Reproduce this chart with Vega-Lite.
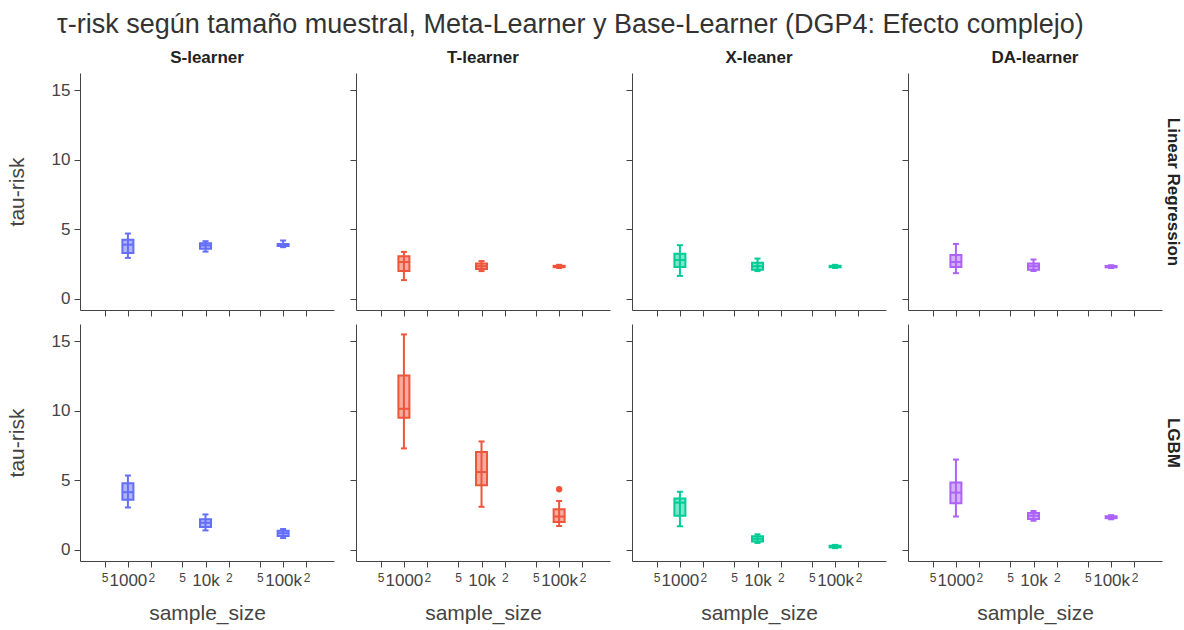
{
  "$schema": "https://vega.github.io/schema/vega-lite/v6.json",
  "padding": {"left": 6, "top": 11, "right": 2, "bottom": 3},
  "background": "white",
  "title": {"text": "τ-risk según tamaño muestral, Meta-Learner y Base-Learner (DGP4: Efecto complejo)", "fontSize": 27, "fontWeight": "normal", "anchor": "start", "color": "#333333", "offset": 10, "dx": 51, "frame": "bounds"},
  "data": {"values": [
    {"meta": "S-learner", "base": "Linear Regression", "n": 1000, "lo": 2.95, "q1": 3.3, "med": 3.9, "q3": 4.25, "hi": 4.7, "out": null},
    {"meta": "S-learner", "base": "Linear Regression", "n": 10000, "lo": 3.4, "q1": 3.6, "med": 3.85, "q3": 4.0, "hi": 4.15, "out": null},
    {"meta": "S-learner", "base": "Linear Regression", "n": 100000, "lo": 3.72, "q1": 3.8, "med": 3.88, "q3": 3.95, "hi": 4.2, "out": null},
    {"meta": "T-learner", "base": "Linear Regression", "n": 1000, "lo": 1.35, "q1": 2.0, "med": 2.65, "q3": 3.07, "hi": 3.38, "out": null},
    {"meta": "T-learner", "base": "Linear Regression", "n": 10000, "lo": 2.0, "q1": 2.15, "med": 2.35, "q3": 2.55, "hi": 2.72, "out": null},
    {"meta": "T-learner", "base": "Linear Regression", "n": 100000, "lo": 2.22, "q1": 2.28, "med": 2.33, "q3": 2.38, "hi": 2.45, "out": null},
    {"meta": "X-leaner", "base": "Linear Regression", "n": 1000, "lo": 1.65, "q1": 2.3, "med": 2.8, "q3": 3.25, "hi": 3.86, "out": null},
    {"meta": "X-leaner", "base": "Linear Regression", "n": 10000, "lo": 2.0, "q1": 2.1, "med": 2.35, "q3": 2.6, "hi": 2.9, "out": null},
    {"meta": "X-leaner", "base": "Linear Regression", "n": 100000, "lo": 2.22, "q1": 2.28, "med": 2.33, "q3": 2.38, "hi": 2.45, "out": null},
    {"meta": "DA-learner", "base": "Linear Regression", "n": 1000, "lo": 1.85, "q1": 2.3, "med": 2.65, "q3": 3.15, "hi": 3.95, "out": null},
    {"meta": "DA-learner", "base": "Linear Regression", "n": 10000, "lo": 2.0, "q1": 2.1, "med": 2.35, "q3": 2.55, "hi": 2.83, "out": null},
    {"meta": "DA-learner", "base": "Linear Regression", "n": 100000, "lo": 2.22, "q1": 2.27, "med": 2.32, "q3": 2.37, "hi": 2.42, "out": null},
    {"meta": "S-learner", "base": "LGBM", "n": 1000, "lo": 3.05, "q1": 3.6, "med": 4.15, "q3": 4.8, "hi": 5.35, "out": null},
    {"meta": "S-learner", "base": "LGBM", "n": 10000, "lo": 1.4, "q1": 1.65, "med": 1.95, "q3": 2.2, "hi": 2.55, "out": null},
    {"meta": "S-learner", "base": "LGBM", "n": 100000, "lo": 0.85, "q1": 1.0, "med": 1.2, "q3": 1.38, "hi": 1.5, "out": null},
    {"meta": "T-learner", "base": "LGBM", "n": 1000, "lo": 7.3, "q1": 9.5, "med": 10.15, "q3": 12.55, "hi": 15.5, "out": null},
    {"meta": "T-learner", "base": "LGBM", "n": 10000, "lo": 3.1, "q1": 4.65, "med": 5.6, "q3": 7.05, "hi": 7.8, "out": null},
    {"meta": "T-learner", "base": "LGBM", "n": 100000, "lo": 1.72, "q1": 2.0, "med": 2.4, "q3": 2.92, "hi": 3.52, "out": 4.36},
    {"meta": "X-leaner", "base": "LGBM", "n": 1000, "lo": 1.7, "q1": 2.45, "med": 3.4, "q3": 3.7, "hi": 4.18, "out": null},
    {"meta": "X-leaner", "base": "LGBM", "n": 10000, "lo": 0.5, "q1": 0.6, "med": 0.8, "q3": 0.98, "hi": 1.12, "out": null},
    {"meta": "X-leaner", "base": "LGBM", "n": 100000, "lo": 0.12, "q1": 0.18, "med": 0.25, "q3": 0.3, "hi": 0.36, "out": null},
    {"meta": "DA-learner", "base": "LGBM", "n": 1000, "lo": 2.4, "q1": 3.35, "med": 4.12, "q3": 4.84, "hi": 6.5, "out": null},
    {"meta": "DA-learner", "base": "LGBM", "n": 10000, "lo": 2.1, "q1": 2.22, "med": 2.45, "q3": 2.65, "hi": 2.8, "out": null},
    {"meta": "DA-learner", "base": "LGBM", "n": 100000, "lo": 2.2, "q1": 2.28, "med": 2.35, "q3": 2.42, "hi": 2.5, "out": null}
  ]},
  "columns": 4,
  "spacing": {"row": 14, "column": 22},
  "bounds": "flush",
  "concat": [
    {
      "title": {"text": "S-learner"},
      "width": 254, "height": 237,
      "transform": [{"filter": "datum.meta === 'S-learner' && datum.base === 'Linear Regression'"}],
      "encoding": {
        "x": {"field": "n", "type": "quantitative", "scale": {"type": "log", "domain": [280, 390000], "nice": false}, "axis": {"values": [500, 1000, 2000, 5000, 10000, 20000, 50000, 100000, 200000], "labels": false, "title": null}},
        "color": {"field": "meta", "type": "nominal", "scale": {"domain": ["S-learner", "T-learner", "X-leaner", "DA-learner"], "range": ["#636EFA", "#EF553B", "#00CC96", "#AB63FA"]}, "legend": null}
      },
      "layer": [
        {"mark": {"type": "rule", "strokeWidth": 2}, "encoding": {"y": {"field": "lo", "type": "quantitative", "scale": {"domain": [-0.8, 16.25], "nice": false, "zero": false}, "axis": {"values": [0, 5, 10, 15], "title": "tau-risk"}}, "y2": {"field": "hi"}}},
        {"mark": {"type": "tick", "orient": "horizontal", "size": 6, "thickness": 2, "opacity": 1}, "encoding": {"y": {"field": "lo", "type": "quantitative", "scale": {"domain": [-0.8, 16.25], "nice": false, "zero": false}, "axis": {"values": [0, 5, 10, 15], "title": "tau-risk"}}}},
        {"mark": {"type": "tick", "orient": "horizontal", "size": 6, "thickness": 2, "opacity": 1}, "encoding": {"y": {"field": "hi", "type": "quantitative", "scale": {"domain": [-0.8, 16.25], "nice": false, "zero": false}, "axis": {"values": [0, 5, 10, 15], "title": "tau-risk"}}}},
        {"mark": {"type": "bar", "size": 11, "fillOpacity": 0.5, "strokeWidth": 2}, "encoding": {"y": {"field": "q1", "type": "quantitative", "scale": {"domain": [-0.8, 16.25], "nice": false, "zero": false}, "axis": {"values": [0, 5, 10, 15], "title": "tau-risk"}}, "y2": {"field": "q3"}, "stroke": {"field": "meta", "type": "nominal", "scale": {"domain": ["S-learner", "T-learner", "X-leaner", "DA-learner"], "range": ["#636EFA", "#EF553B", "#00CC96", "#AB63FA"]}, "legend": null}}},
        {"mark": {"type": "tick", "orient": "horizontal", "size": 11, "thickness": 2, "opacity": 1}, "encoding": {"y": {"field": "med", "type": "quantitative", "scale": {"domain": [-0.8, 16.25], "nice": false, "zero": false}, "axis": {"values": [0, 5, 10, 15], "title": "tau-risk"}}}}
      ]
    },
    {
      "title": {"text": "T-learner"},
      "width": 254, "height": 237,
      "transform": [{"filter": "datum.meta === 'T-learner' && datum.base === 'Linear Regression'"}],
      "encoding": {
        "x": {"field": "n", "type": "quantitative", "scale": {"type": "log", "domain": [280, 390000], "nice": false}, "axis": {"values": [500, 1000, 2000, 5000, 10000, 20000, 50000, 100000, 200000], "labels": false, "title": null}},
        "color": {"field": "meta", "type": "nominal", "scale": {"domain": ["S-learner", "T-learner", "X-leaner", "DA-learner"], "range": ["#636EFA", "#EF553B", "#00CC96", "#AB63FA"]}, "legend": null}
      },
      "layer": [
        {"mark": {"type": "rule", "strokeWidth": 2}, "encoding": {"y": {"field": "lo", "type": "quantitative", "scale": {"domain": [-0.8, 16.25], "nice": false, "zero": false}, "axis": {"values": [0, 5, 10, 15], "labels": false, "title": null}}, "y2": {"field": "hi"}}},
        {"mark": {"type": "tick", "orient": "horizontal", "size": 6, "thickness": 2, "opacity": 1}, "encoding": {"y": {"field": "lo", "type": "quantitative", "scale": {"domain": [-0.8, 16.25], "nice": false, "zero": false}, "axis": {"values": [0, 5, 10, 15], "labels": false, "title": null}}}},
        {"mark": {"type": "tick", "orient": "horizontal", "size": 6, "thickness": 2, "opacity": 1}, "encoding": {"y": {"field": "hi", "type": "quantitative", "scale": {"domain": [-0.8, 16.25], "nice": false, "zero": false}, "axis": {"values": [0, 5, 10, 15], "labels": false, "title": null}}}},
        {"mark": {"type": "bar", "size": 11, "fillOpacity": 0.5, "strokeWidth": 2}, "encoding": {"y": {"field": "q1", "type": "quantitative", "scale": {"domain": [-0.8, 16.25], "nice": false, "zero": false}, "axis": {"values": [0, 5, 10, 15], "labels": false, "title": null}}, "y2": {"field": "q3"}, "stroke": {"field": "meta", "type": "nominal", "scale": {"domain": ["S-learner", "T-learner", "X-leaner", "DA-learner"], "range": ["#636EFA", "#EF553B", "#00CC96", "#AB63FA"]}, "legend": null}}},
        {"mark": {"type": "tick", "orient": "horizontal", "size": 11, "thickness": 2, "opacity": 1}, "encoding": {"y": {"field": "med", "type": "quantitative", "scale": {"domain": [-0.8, 16.25], "nice": false, "zero": false}, "axis": {"values": [0, 5, 10, 15], "labels": false, "title": null}}}}
      ]
    },
    {
      "title": {"text": "X-leaner"},
      "width": 254, "height": 237,
      "transform": [{"filter": "datum.meta === 'X-leaner' && datum.base === 'Linear Regression'"}],
      "encoding": {
        "x": {"field": "n", "type": "quantitative", "scale": {"type": "log", "domain": [280, 390000], "nice": false}, "axis": {"values": [500, 1000, 2000, 5000, 10000, 20000, 50000, 100000, 200000], "labels": false, "title": null}},
        "color": {"field": "meta", "type": "nominal", "scale": {"domain": ["S-learner", "T-learner", "X-leaner", "DA-learner"], "range": ["#636EFA", "#EF553B", "#00CC96", "#AB63FA"]}, "legend": null}
      },
      "layer": [
        {"mark": {"type": "rule", "strokeWidth": 2}, "encoding": {"y": {"field": "lo", "type": "quantitative", "scale": {"domain": [-0.8, 16.25], "nice": false, "zero": false}, "axis": {"values": [0, 5, 10, 15], "labels": false, "title": null}}, "y2": {"field": "hi"}}},
        {"mark": {"type": "tick", "orient": "horizontal", "size": 6, "thickness": 2, "opacity": 1}, "encoding": {"y": {"field": "lo", "type": "quantitative", "scale": {"domain": [-0.8, 16.25], "nice": false, "zero": false}, "axis": {"values": [0, 5, 10, 15], "labels": false, "title": null}}}},
        {"mark": {"type": "tick", "orient": "horizontal", "size": 6, "thickness": 2, "opacity": 1}, "encoding": {"y": {"field": "hi", "type": "quantitative", "scale": {"domain": [-0.8, 16.25], "nice": false, "zero": false}, "axis": {"values": [0, 5, 10, 15], "labels": false, "title": null}}}},
        {"mark": {"type": "bar", "size": 11, "fillOpacity": 0.5, "strokeWidth": 2}, "encoding": {"y": {"field": "q1", "type": "quantitative", "scale": {"domain": [-0.8, 16.25], "nice": false, "zero": false}, "axis": {"values": [0, 5, 10, 15], "labels": false, "title": null}}, "y2": {"field": "q3"}, "stroke": {"field": "meta", "type": "nominal", "scale": {"domain": ["S-learner", "T-learner", "X-leaner", "DA-learner"], "range": ["#636EFA", "#EF553B", "#00CC96", "#AB63FA"]}, "legend": null}}},
        {"mark": {"type": "tick", "orient": "horizontal", "size": 11, "thickness": 2, "opacity": 1}, "encoding": {"y": {"field": "med", "type": "quantitative", "scale": {"domain": [-0.8, 16.25], "nice": false, "zero": false}, "axis": {"values": [0, 5, 10, 15], "labels": false, "title": null}}}}
      ]
    },
    {
      "title": {"text": "DA-learner"},
      "width": 254, "height": 237,
      "transform": [{"filter": "datum.meta === 'DA-learner' && datum.base === 'Linear Regression'"}],
      "encoding": {
        "x": {"field": "n", "type": "quantitative", "scale": {"type": "log", "domain": [280, 390000], "nice": false}, "axis": {"values": [500, 1000, 2000, 5000, 10000, 20000, 50000, 100000, 200000], "labels": false, "title": null}},
        "color": {"field": "meta", "type": "nominal", "scale": {"domain": ["S-learner", "T-learner", "X-leaner", "DA-learner"], "range": ["#636EFA", "#EF553B", "#00CC96", "#AB63FA"]}, "legend": null}
      },
      "layer": [
        {"layer": [
          {"mark": {"type": "rule", "strokeWidth": 2}, "encoding": {"y": {"field": "lo", "type": "quantitative", "scale": {"domain": [-0.8, 16.25], "nice": false, "zero": false}, "axis": {"values": [0, 5, 10, 15], "labels": false, "title": null}}, "y2": {"field": "hi"}}},
          {"mark": {"type": "tick", "orient": "horizontal", "size": 6, "thickness": 2, "opacity": 1}, "encoding": {"y": {"field": "lo", "type": "quantitative", "scale": {"domain": [-0.8, 16.25], "nice": false, "zero": false}, "axis": {"values": [0, 5, 10, 15], "labels": false, "title": null}}}},
          {"mark": {"type": "tick", "orient": "horizontal", "size": 6, "thickness": 2, "opacity": 1}, "encoding": {"y": {"field": "hi", "type": "quantitative", "scale": {"domain": [-0.8, 16.25], "nice": false, "zero": false}, "axis": {"values": [0, 5, 10, 15], "labels": false, "title": null}}}},
          {"mark": {"type": "bar", "size": 11, "fillOpacity": 0.5, "strokeWidth": 2}, "encoding": {"y": {"field": "q1", "type": "quantitative", "scale": {"domain": [-0.8, 16.25], "nice": false, "zero": false}, "axis": {"values": [0, 5, 10, 15], "labels": false, "title": null}}, "y2": {"field": "q3"}, "stroke": {"field": "meta", "type": "nominal", "scale": {"domain": ["S-learner", "T-learner", "X-leaner", "DA-learner"], "range": ["#636EFA", "#EF553B", "#00CC96", "#AB63FA"]}, "legend": null}}},
          {"mark": {"type": "tick", "orient": "horizontal", "size": 11, "thickness": 2, "opacity": 1}, "encoding": {"y": {"field": "med", "type": "quantitative", "scale": {"domain": [-0.8, 16.25], "nice": false, "zero": false}, "axis": {"values": [0, 5, 10, 15], "labels": false, "title": null}}}}
        ]},
        {"mark": {"type": "point", "opacity": 0}, "encoding": {"y": {"field": "med", "type": "quantitative", "scale": {"domain": [-0.8, 16.25], "nice": false, "zero": false}, "axis": {"orient": "right", "title": "Linear Regression", "labels": false, "ticks": false, "domain": false, "titleAngle": 90, "titleFontWeight": "bold", "titleFontSize": 17, "titleColor": "#222222", "titlePadding": 1}}}}
      ],
      "resolve": {"axis": {"y": "independent"}}
    },
    {
      "width": 254, "height": 237,
      "transform": [{"filter": "datum.meta === 'S-learner' && datum.base === 'LGBM'"}],
      "encoding": {
        "x": {"field": "n", "type": "quantitative", "scale": {"type": "log", "domain": [280, 390000], "nice": false}, "axis": {"values": [500, 1000, 2000, 5000, 10000, 20000, 50000, 100000, 200000], "title": "sample_size", "labelOverlap": false, "labelFlush": false, "labelBound": false, "labelExpr": "datum.value == 1000 ? '1000' : datum.value == 10000 ? '10k' : datum.value == 100000 ? '100k' : substring(toString(datum.value), 0, 1)", "labelFontSize": {"condition": {"test": "datum.value == 1000 || datum.value == 10000 || datum.value == 100000", "value": 17}, "value": 12}}},
        "color": {"field": "meta", "type": "nominal", "scale": {"domain": ["S-learner", "T-learner", "X-leaner", "DA-learner"], "range": ["#636EFA", "#EF553B", "#00CC96", "#AB63FA"]}, "legend": null}
      },
      "layer": [
        {"mark": {"type": "rule", "strokeWidth": 2}, "encoding": {"y": {"field": "lo", "type": "quantitative", "scale": {"domain": [-0.8, 16.25], "nice": false, "zero": false}, "axis": {"values": [0, 5, 10, 15], "title": "tau-risk"}}, "y2": {"field": "hi"}}},
        {"mark": {"type": "tick", "orient": "horizontal", "size": 6, "thickness": 2, "opacity": 1}, "encoding": {"y": {"field": "lo", "type": "quantitative", "scale": {"domain": [-0.8, 16.25], "nice": false, "zero": false}, "axis": {"values": [0, 5, 10, 15], "title": "tau-risk"}}}},
        {"mark": {"type": "tick", "orient": "horizontal", "size": 6, "thickness": 2, "opacity": 1}, "encoding": {"y": {"field": "hi", "type": "quantitative", "scale": {"domain": [-0.8, 16.25], "nice": false, "zero": false}, "axis": {"values": [0, 5, 10, 15], "title": "tau-risk"}}}},
        {"mark": {"type": "bar", "size": 11, "fillOpacity": 0.5, "strokeWidth": 2}, "encoding": {"y": {"field": "q1", "type": "quantitative", "scale": {"domain": [-0.8, 16.25], "nice": false, "zero": false}, "axis": {"values": [0, 5, 10, 15], "title": "tau-risk"}}, "y2": {"field": "q3"}, "stroke": {"field": "meta", "type": "nominal", "scale": {"domain": ["S-learner", "T-learner", "X-leaner", "DA-learner"], "range": ["#636EFA", "#EF553B", "#00CC96", "#AB63FA"]}, "legend": null}}},
        {"mark": {"type": "tick", "orient": "horizontal", "size": 11, "thickness": 2, "opacity": 1}, "encoding": {"y": {"field": "med", "type": "quantitative", "scale": {"domain": [-0.8, 16.25], "nice": false, "zero": false}, "axis": {"values": [0, 5, 10, 15], "title": "tau-risk"}}}}
      ]
    },
    {
      "width": 254, "height": 237,
      "transform": [{"filter": "datum.meta === 'T-learner' && datum.base === 'LGBM'"}],
      "encoding": {
        "x": {"field": "n", "type": "quantitative", "scale": {"type": "log", "domain": [280, 390000], "nice": false}, "axis": {"values": [500, 1000, 2000, 5000, 10000, 20000, 50000, 100000, 200000], "title": "sample_size", "labelOverlap": false, "labelFlush": false, "labelBound": false, "labelExpr": "datum.value == 1000 ? '1000' : datum.value == 10000 ? '10k' : datum.value == 100000 ? '100k' : substring(toString(datum.value), 0, 1)", "labelFontSize": {"condition": {"test": "datum.value == 1000 || datum.value == 10000 || datum.value == 100000", "value": 17}, "value": 12}}},
        "color": {"field": "meta", "type": "nominal", "scale": {"domain": ["S-learner", "T-learner", "X-leaner", "DA-learner"], "range": ["#636EFA", "#EF553B", "#00CC96", "#AB63FA"]}, "legend": null}
      },
      "layer": [
        {"mark": {"type": "rule", "strokeWidth": 2}, "encoding": {"y": {"field": "lo", "type": "quantitative", "scale": {"domain": [-0.8, 16.25], "nice": false, "zero": false}, "axis": {"values": [0, 5, 10, 15], "labels": false, "title": null}}, "y2": {"field": "hi"}}},
        {"mark": {"type": "tick", "orient": "horizontal", "size": 6, "thickness": 2, "opacity": 1}, "encoding": {"y": {"field": "lo", "type": "quantitative", "scale": {"domain": [-0.8, 16.25], "nice": false, "zero": false}, "axis": {"values": [0, 5, 10, 15], "labels": false, "title": null}}}},
        {"mark": {"type": "tick", "orient": "horizontal", "size": 6, "thickness": 2, "opacity": 1}, "encoding": {"y": {"field": "hi", "type": "quantitative", "scale": {"domain": [-0.8, 16.25], "nice": false, "zero": false}, "axis": {"values": [0, 5, 10, 15], "labels": false, "title": null}}}},
        {"mark": {"type": "bar", "size": 11, "fillOpacity": 0.5, "strokeWidth": 2}, "encoding": {"y": {"field": "q1", "type": "quantitative", "scale": {"domain": [-0.8, 16.25], "nice": false, "zero": false}, "axis": {"values": [0, 5, 10, 15], "labels": false, "title": null}}, "y2": {"field": "q3"}, "stroke": {"field": "meta", "type": "nominal", "scale": {"domain": ["S-learner", "T-learner", "X-leaner", "DA-learner"], "range": ["#636EFA", "#EF553B", "#00CC96", "#AB63FA"]}, "legend": null}}},
        {"mark": {"type": "tick", "orient": "horizontal", "size": 11, "thickness": 2, "opacity": 1}, "encoding": {"y": {"field": "med", "type": "quantitative", "scale": {"domain": [-0.8, 16.25], "nice": false, "zero": false}, "axis": {"values": [0, 5, 10, 15], "labels": false, "title": null}}}},
        {"transform": [{"filter": "isValid(datum.out)"}], "mark": {"type": "circle", "size": 40, "opacity": 1}, "encoding": {"y": {"field": "out", "type": "quantitative", "scale": {"domain": [-0.8, 16.25], "nice": false, "zero": false}, "axis": {"values": [0, 5, 10, 15], "labels": false, "title": null}}}}
      ]
    },
    {
      "width": 254, "height": 237,
      "transform": [{"filter": "datum.meta === 'X-leaner' && datum.base === 'LGBM'"}],
      "encoding": {
        "x": {"field": "n", "type": "quantitative", "scale": {"type": "log", "domain": [280, 390000], "nice": false}, "axis": {"values": [500, 1000, 2000, 5000, 10000, 20000, 50000, 100000, 200000], "title": "sample_size", "labelOverlap": false, "labelFlush": false, "labelBound": false, "labelExpr": "datum.value == 1000 ? '1000' : datum.value == 10000 ? '10k' : datum.value == 100000 ? '100k' : substring(toString(datum.value), 0, 1)", "labelFontSize": {"condition": {"test": "datum.value == 1000 || datum.value == 10000 || datum.value == 100000", "value": 17}, "value": 12}}},
        "color": {"field": "meta", "type": "nominal", "scale": {"domain": ["S-learner", "T-learner", "X-leaner", "DA-learner"], "range": ["#636EFA", "#EF553B", "#00CC96", "#AB63FA"]}, "legend": null}
      },
      "layer": [
        {"mark": {"type": "rule", "strokeWidth": 2}, "encoding": {"y": {"field": "lo", "type": "quantitative", "scale": {"domain": [-0.8, 16.25], "nice": false, "zero": false}, "axis": {"values": [0, 5, 10, 15], "labels": false, "title": null}}, "y2": {"field": "hi"}}},
        {"mark": {"type": "tick", "orient": "horizontal", "size": 6, "thickness": 2, "opacity": 1}, "encoding": {"y": {"field": "lo", "type": "quantitative", "scale": {"domain": [-0.8, 16.25], "nice": false, "zero": false}, "axis": {"values": [0, 5, 10, 15], "labels": false, "title": null}}}},
        {"mark": {"type": "tick", "orient": "horizontal", "size": 6, "thickness": 2, "opacity": 1}, "encoding": {"y": {"field": "hi", "type": "quantitative", "scale": {"domain": [-0.8, 16.25], "nice": false, "zero": false}, "axis": {"values": [0, 5, 10, 15], "labels": false, "title": null}}}},
        {"mark": {"type": "bar", "size": 11, "fillOpacity": 0.5, "strokeWidth": 2}, "encoding": {"y": {"field": "q1", "type": "quantitative", "scale": {"domain": [-0.8, 16.25], "nice": false, "zero": false}, "axis": {"values": [0, 5, 10, 15], "labels": false, "title": null}}, "y2": {"field": "q3"}, "stroke": {"field": "meta", "type": "nominal", "scale": {"domain": ["S-learner", "T-learner", "X-leaner", "DA-learner"], "range": ["#636EFA", "#EF553B", "#00CC96", "#AB63FA"]}, "legend": null}}},
        {"mark": {"type": "tick", "orient": "horizontal", "size": 11, "thickness": 2, "opacity": 1}, "encoding": {"y": {"field": "med", "type": "quantitative", "scale": {"domain": [-0.8, 16.25], "nice": false, "zero": false}, "axis": {"values": [0, 5, 10, 15], "labels": false, "title": null}}}}
      ]
    },
    {
      "width": 254, "height": 237,
      "transform": [{"filter": "datum.meta === 'DA-learner' && datum.base === 'LGBM'"}],
      "encoding": {
        "x": {"field": "n", "type": "quantitative", "scale": {"type": "log", "domain": [280, 390000], "nice": false}, "axis": {"values": [500, 1000, 2000, 5000, 10000, 20000, 50000, 100000, 200000], "title": "sample_size", "labelOverlap": false, "labelFlush": false, "labelBound": false, "labelExpr": "datum.value == 1000 ? '1000' : datum.value == 10000 ? '10k' : datum.value == 100000 ? '100k' : substring(toString(datum.value), 0, 1)", "labelFontSize": {"condition": {"test": "datum.value == 1000 || datum.value == 10000 || datum.value == 100000", "value": 17}, "value": 12}}},
        "color": {"field": "meta", "type": "nominal", "scale": {"domain": ["S-learner", "T-learner", "X-leaner", "DA-learner"], "range": ["#636EFA", "#EF553B", "#00CC96", "#AB63FA"]}, "legend": null}
      },
      "layer": [
        {"layer": [
          {"mark": {"type": "rule", "strokeWidth": 2}, "encoding": {"y": {"field": "lo", "type": "quantitative", "scale": {"domain": [-0.8, 16.25], "nice": false, "zero": false}, "axis": {"values": [0, 5, 10, 15], "labels": false, "title": null}}, "y2": {"field": "hi"}}},
          {"mark": {"type": "tick", "orient": "horizontal", "size": 6, "thickness": 2, "opacity": 1}, "encoding": {"y": {"field": "lo", "type": "quantitative", "scale": {"domain": [-0.8, 16.25], "nice": false, "zero": false}, "axis": {"values": [0, 5, 10, 15], "labels": false, "title": null}}}},
          {"mark": {"type": "tick", "orient": "horizontal", "size": 6, "thickness": 2, "opacity": 1}, "encoding": {"y": {"field": "hi", "type": "quantitative", "scale": {"domain": [-0.8, 16.25], "nice": false, "zero": false}, "axis": {"values": [0, 5, 10, 15], "labels": false, "title": null}}}},
          {"mark": {"type": "bar", "size": 11, "fillOpacity": 0.5, "strokeWidth": 2}, "encoding": {"y": {"field": "q1", "type": "quantitative", "scale": {"domain": [-0.8, 16.25], "nice": false, "zero": false}, "axis": {"values": [0, 5, 10, 15], "labels": false, "title": null}}, "y2": {"field": "q3"}, "stroke": {"field": "meta", "type": "nominal", "scale": {"domain": ["S-learner", "T-learner", "X-leaner", "DA-learner"], "range": ["#636EFA", "#EF553B", "#00CC96", "#AB63FA"]}, "legend": null}}},
          {"mark": {"type": "tick", "orient": "horizontal", "size": 11, "thickness": 2, "opacity": 1}, "encoding": {"y": {"field": "med", "type": "quantitative", "scale": {"domain": [-0.8, 16.25], "nice": false, "zero": false}, "axis": {"values": [0, 5, 10, 15], "labels": false, "title": null}}}}
        ]},
        {"mark": {"type": "point", "opacity": 0}, "encoding": {"y": {"field": "med", "type": "quantitative", "scale": {"domain": [-0.8, 16.25], "nice": false, "zero": false}, "axis": {"orient": "right", "title": "LGBM", "labels": false, "ticks": false, "domain": false, "titleAngle": 90, "titleFontWeight": "bold", "titleFontSize": 17, "titleColor": "#222222", "titlePadding": 1}}}}
      ],
      "resolve": {"axis": {"y": "independent"}}
    }
  ],
  "resolve": {"scale": {"y": "independent", "x": "independent"}},
  "config": {
    "font": "Liberation Sans",
    "view": {"stroke": null},
    "axis": {"grid": false, "domainColor": "#444444", "tickColor": "#444444", "labelColor": "#444444", "titleColor": "#444444", "tickSize": 6, "labelFont": "Liberation Sans", "titleFont": "Liberation Sans", "labelFontSize": 17, "titleFontSize": 21, "titleFontWeight": "normal", "labelPadding": 4},
    "axisX": {"labelPadding": 5, "titlePadding": 14},
    "axisY": {"titlePadding": 24},
    "title": {"font": "Liberation Sans", "fontSize": 17, "fontWeight": "bold", "color": "#222222", "offset": 6}
  }
}
